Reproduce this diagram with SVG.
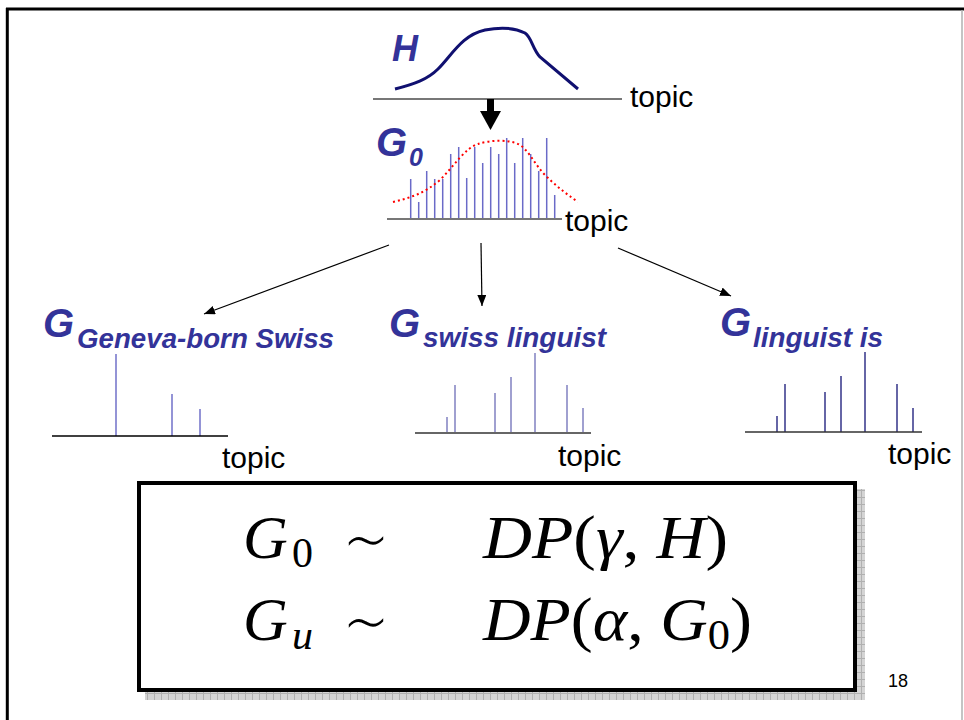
<svg xmlns="http://www.w3.org/2000/svg" width="964" height="720" viewBox="0 0 964 720">
<style>
.lbl{font-family:"Liberation Sans",Arial,sans-serif;font-weight:bold;font-style:italic;fill:#333399}
.topic{font-family:"Liberation Sans",Arial,sans-serif;font-size:30px;fill:#000}
.math{font-family:"Liberation Serif","Times New Roman",serif;fill:#000}
.it{font-style:italic}
.tl{font-family:"DejaVu Sans",sans-serif;font-weight:200}
.conn{stroke:#000;stroke-width:1.2;fill:none}
.bar0{stroke:#6a6ac8;stroke-width:1.5}
</style>
<defs>
<marker id="ah" markerUnits="userSpaceOnUse" markerWidth="12" markerHeight="10" refX="11" refY="4.5" orient="auto">
<path d="M0,0 L11,4.5 L0,9 z" fill="#000"/>
</marker>
<pattern id="grid" width="7" height="7" patternUnits="userSpaceOnUse">
<rect width="7" height="7" fill="#d4d4d4"/>
<path d="M0,0.5 H7 M0.5,0 V7" stroke="#b0b0b0" stroke-width="1"/>
</pattern>
</defs>
<rect width="964" height="720" fill="#fff"/>
<g id="frame">
<line x1="6" y1="9" x2="964" y2="9" stroke="#000" stroke-width="3"/>
<line x1="7.3" y1="8" x2="7.3" y2="720" stroke="#000" stroke-width="3"/>
<line x1="962" y1="10" x2="962" y2="720" stroke="#b0b0b0" stroke-width="1.5"/>
</g>
<g id="H">
<text class="lbl" x="392" y="61" font-size="36">H</text>
<path d="M395,89 C415,84 428,79 438,69 C452,55 462,35 485,30 C500,27 515,28 525,33 C532,38 532,48 540,57 L578,89" stroke="#101070" stroke-width="3" fill="none"/>
<line x1="373" y1="99" x2="622" y2="99" stroke="#777" stroke-width="2"/>
<text class="topic" x="630" y="107">topic</text>
</g>
<g id="bigarrow">
<rect x="487" y="99" width="7" height="13" fill="#000"/>
<path d="M480,111 L501,111 L490.5,130 z" fill="#000"/>
</g>
<g id="G0">
<text class="lbl" x="376" y="156" font-size="40">G</text>
<text class="lbl" x="409" y="166" font-size="25">0</text>
<g class="bar0">
<line x1="410.7" y1="219" x2="410.7" y2="179"/>
<line x1="418.7" y1="219" x2="418.7" y2="202"/>
<line x1="426.7" y1="219" x2="426.7" y2="171"/>
<line x1="434.7" y1="219" x2="434.7" y2="179"/>
<line x1="442.7" y1="219" x2="442.7" y2="179"/>
<line x1="450.7" y1="219" x2="450.7" y2="154"/>
<line x1="458.7" y1="219" x2="458.7" y2="147"/>
<line x1="466.7" y1="219" x2="466.7" y2="178"/>
<line x1="474.7" y1="219" x2="474.7" y2="147"/>
<line x1="482.7" y1="219" x2="482.7" y2="163"/>
<line x1="490.7" y1="219" x2="490.7" y2="147"/>
<line x1="498.7" y1="219" x2="498.7" y2="154"/>
<line x1="506.7" y1="219" x2="506.7" y2="138"/>
<line x1="514.7" y1="219" x2="514.7" y2="163"/>
<line x1="522.7" y1="219" x2="522.7" y2="138"/>
<line x1="530.7" y1="219" x2="530.7" y2="154"/>
<line x1="538.7" y1="219" x2="538.7" y2="171"/>
<line x1="546.7" y1="219" x2="546.7" y2="138"/>
<line x1="554.7" y1="219" x2="554.7" y2="195"/>
</g>
<path d="M393,202 C410,198 425,193 440,180 C455,165 465,148 478,144 C490,140 510,139 520,145 C530,152 535,165 545,175 C555,185 565,193 578,202" stroke="#ff0000" stroke-width="2" stroke-dasharray="2 3" fill="none"/>
<line x1="387" y1="219" x2="562" y2="219" stroke="#777" stroke-width="2"/>
<text class="topic" x="565" y="231">topic</text>
</g>
<g id="connectors">
<line class="conn" x1="389" y1="245" x2="204" y2="314" marker-end="url(#ah)"/>
<line class="conn" x1="481" y1="243" x2="482" y2="306" marker-end="url(#ah)"/>
<line class="conn" x1="618" y1="248" x2="731" y2="296" marker-end="url(#ah)"/>
</g>
<g id="G-geneva">
<text class="lbl" x="43" y="337" font-size="40">G</text>
<text class="lbl" x="77" y="348" font-size="27" textLength="257" lengthAdjust="spacingAndGlyphs">Geneva-born Swiss</text>
<g stroke="#7070c8" stroke-width="1.5">
<line x1="116" y1="436" x2="116" y2="354"/>
<line x1="172" y1="436" x2="172" y2="394"/>
<line x1="200" y1="436" x2="200" y2="409"/>
</g>
<line x1="52" y1="436" x2="228" y2="436" stroke="#000" stroke-width="1.5"/>
<text class="topic" x="222" y="468">topic</text>
</g>
<g id="G-swiss">
<text class="lbl" x="389" y="337" font-size="40">G</text>
<text class="lbl" x="423" y="347" font-size="27" textLength="183" lengthAdjust="spacingAndGlyphs">swiss linguist</text>
<g stroke="#8080c0" stroke-width="1.5">
<line x1="447" y1="433" x2="447" y2="417"/>
<line x1="455" y1="433" x2="455" y2="385"/>
<line x1="495" y1="433" x2="495" y2="393"/>
<line x1="511" y1="433" x2="511" y2="377"/>
<line x1="535" y1="433" x2="535" y2="353"/>
<line x1="567" y1="433" x2="567" y2="385"/>
<line x1="583" y1="433" x2="583" y2="408"/>
</g>
<line x1="415" y1="433" x2="591" y2="433" stroke="#666" stroke-width="2"/>
<text class="topic" x="558" y="466">topic</text>
</g>
<g id="G-linguist">
<text class="lbl" x="720" y="336" font-size="40">G</text>
<text class="lbl" x="753" y="347" font-size="27" textLength="130" lengthAdjust="spacingAndGlyphs">linguist is</text>
<g stroke="#333388" stroke-width="1.5">
<line x1="777" y1="432" x2="777" y2="416"/>
<line x1="785" y1="432" x2="785" y2="384"/>
<line x1="825" y1="432" x2="825" y2="392"/>
<line x1="841" y1="432" x2="841" y2="376"/>
<line x1="865" y1="432" x2="865" y2="352"/>
<line x1="897" y1="432" x2="897" y2="384"/>
<line x1="913" y1="432" x2="913" y2="408"/>
</g>
<line x1="745" y1="432" x2="922" y2="432" stroke="#333" stroke-width="1.5"/>
<text class="topic" x="888" y="464">topic</text>
</g>
<g id="formula">
<rect x="145" y="489" width="720" height="211" fill="url(#grid)"/>
<rect x="139" y="483" width="716" height="207" fill="#fff" stroke="#000" stroke-width="4"/>
<g class="math">
<text x="243" y="558" font-size="62" class="it">G</text>
<text x="292" y="567" font-size="42">0</text>
<text x="343" y="566" font-size="72" class="tl" textLength="46" lengthAdjust="spacingAndGlyphs">∼</text>
<text x="483" y="558" font-size="62" textLength="245" lengthAdjust="spacingAndGlyphs"><tspan class="it">DP</tspan>(<tspan class="it">γ</tspan>, <tspan class="it">H</tspan>)</text>
<text x="243" y="640" font-size="62" class="it">G</text>
<text x="292" y="649" font-size="42" class="it">u</text>
<text x="343" y="648" font-size="72" class="tl" textLength="46" lengthAdjust="spacingAndGlyphs">∼</text>
<text x="483" y="640" font-size="62" textLength="269" lengthAdjust="spacingAndGlyphs"><tspan class="it">DP</tspan>(<tspan class="it">α</tspan>, <tspan class="it">G</tspan><tspan font-size="42" dy="9">0</tspan><tspan dy="-9">)</tspan></text>
</g>
</g>
<text x="888" y="687" font-family="Liberation Sans,Arial,sans-serif" font-size="18" fill="#000">18</text>
</svg>
